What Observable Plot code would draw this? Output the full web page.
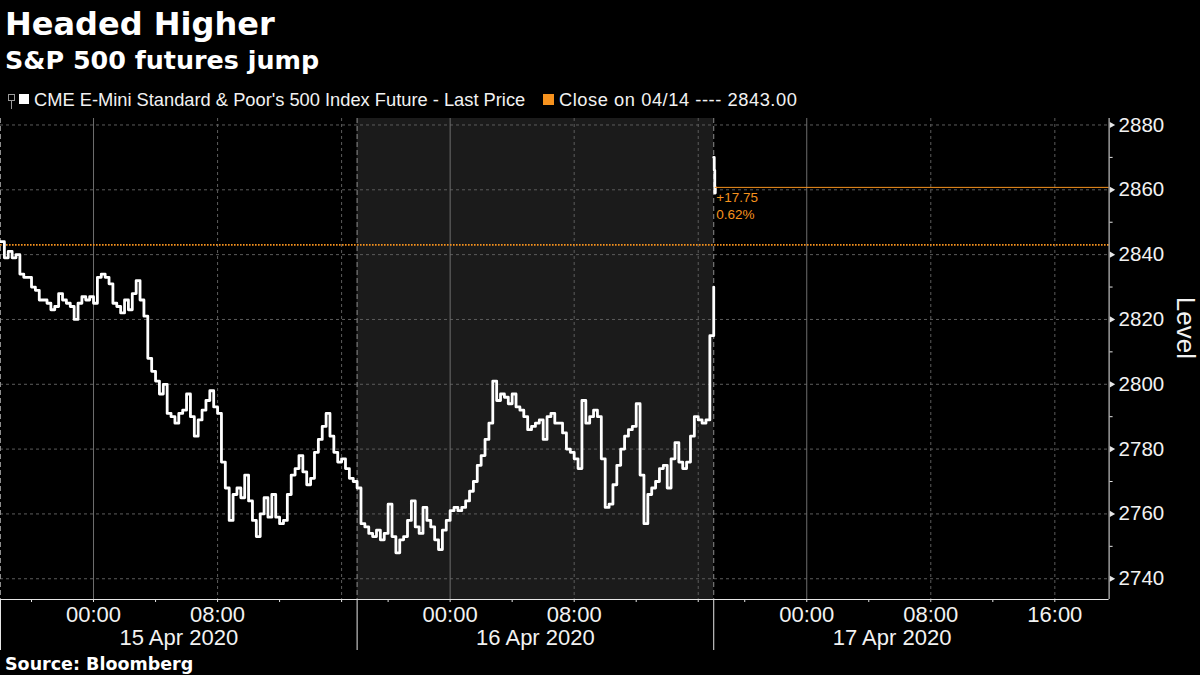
<!DOCTYPE html>
<html><head><meta charset="utf-8">
<script src="https://cdn.jsdelivr.net/npm/d3@7"></script>
<script src="https://cdn.jsdelivr.net/npm/@observablehq/plot@0.6"></script>
<style>
html,body{margin:0;padding:0;background:#000;width:1200px;height:675px;overflow:hidden;}
#page{position:relative;width:1200px;height:675px;background:#000;color:#fff;}
.t{position:absolute;white-space:nowrap;}
#title{left:5px;top:8px;font:bold 32px/32px "DejaVu Sans",sans-serif;}
#subtitle{left:5px;top:47px;font:bold 25.4px/26px "DejaVu Sans",sans-serif;}
.leg{top:91px;font:18.3px/18px "Liberation Sans",Arial,sans-serif;color:#f2f2f2;}
.sw{position:absolute;}
#source{left:5px;top:656px;font:bold 17.5px/17px "DejaVu Sans",sans-serif;z-index:2;}
#chart{position:absolute;left:0;top:110px;z-index:1;}
</style></head>
<body><div id="page">
<div id="title" class="t">Headed Higher</div>
<div id="subtitle" class="t">S&amp;P 500 futures jump</div>
<svg class="sw" style="left:7px;top:93px" width="9" height="17"><rect x="1.5" y="1.5" width="6" height="6" fill="none" stroke="#9a9a9a"/><line x1="4.5" y1="7.5" x2="4.5" y2="16" stroke="#9a9a9a"/></svg>
<div class="sw" style="left:19px;top:94px;width:10px;height:10px;background:#fff"></div>
<div id="leg1" class="t leg" style="left:34px"></div>
<div id="legsw2" class="sw" style="left:543px;top:94px;width:11px;height:11px;"></div>
<div id="leg2" class="t leg" style="left:559px;letter-spacing:0.55px"></div>
<div id="chart"></div>
<div id="source" class="t">Source: Bloomberg</div>
</div>
<script>
// ---- data ----
const seriesName = "CME E-Mini Standard & Poor's 500 Index Future - Last Price";
const closeLabel = "Close on 04/14";
const closePrev = 2843.00;
// Last price, 15-minute samples of trading time, session start 14 Apr 18:00 ET through 16 Apr 17:00 ET
const stepHours = 0.25;
const prices = [
 2844, 2839, 2841, 2839, 2840, 2834, 2833, 2833, 2830, 2829,
 2826, 2826, 2825, 2823, 2824, 2828, 2826, 2825, 2824, 2820,
 2825, 2827, 2826, 2827, 2825, 2833, 2834, 2833, 2831, 2825,
 2824, 2822, 2826, 2823, 2828, 2832, 2826, 2821, 2808, 2804,
 2801, 2797, 2800, 2791, 2790, 2788, 2791, 2792, 2797, 2790,
 2784, 2789, 2792, 2795, 2798, 2793, 2791, 2776, 2768, 2758,
 2766, 2768, 2765, 2772, 2764, 2758, 2753, 2760, 2765, 2759,
 2766, 2759, 2757, 2758, 2766, 2772, 2774, 2778, 2773, 2769,
 2771, 2779, 2783, 2787, 2791, 2784, 2779, 2776, 2777, 2774,
 2771, 2770, 2768, 2757, 2756, 2754, 2753, 2755, 2752, 2754,
 2763, 2753, 2748, 2752, 2753, 2758, 2764, 2756, 2754, 2762,
 2758, 2756, 2752, 2749, 2755, 2758, 2761, 2762, 2761, 2762,
 2764, 2767, 2770, 2775, 2778, 2783, 2788, 2801, 2795, 2797,
 2796, 2794, 2797, 2793, 2792, 2790, 2786, 2787, 2788, 2789,
 2783, 2790, 2791, 2788, 2788, 2785, 2780, 2779, 2777, 2774,
 2795, 2788, 2790, 2792, 2790, 2777, 2762, 2763, 2769, 2775,
 2780, 2784, 2786, 2787, 2794, 2772, 2757, 2766, 2768, 2770,
 2774, 2775, 2768, 2777, 2782, 2776, 2774, 2776, 2784, 2790,
 2789, 2788, 2789, 2815, 2830
];
// after the 16 Apr 18:00 reopen, 2-minute samples
const reopenStepHours = 2 / 60;
const reopenPrices = [2870, 2866, 2859, 2860.75];
const sessions = [
  {label: "15 Apr 2020", start: 0, end: 23},
  {label: "16 Apr 2020", start: 23, end: 46},
  {label: "17 Apr 2020", start: 46, end: 69}
];
const xTickHours = [2, 6, 10, 14, 18, 22, 25, 29, 33, 37, 41, 45, 48, 52, 56, 60, 64, 68];
const xLabelHours = [6, 14, 29, 37, 52, 60, 68];
const gridSolidHours = [6, 29, 52];
const gridDashedHours = [14, 22, 37, 45, 60, 68];
const yTicks = [2740, 2760, 2780, 2800, 2820, 2840, 2860, 2880];
const yMinorTicks = [2750, 2770, 2790, 2810, 2830, 2850, 2870];
const xDomain = [0, 71.5];
const yDomain = [2733.6, 2882];

// ---- build ----
const orange = "#f6921e";
const rows = prices.map((p, i) => ({h: i * stepHours, price: p}));
const reopenStart = sessions[2].start;
rows.push({h: reopenStart, price: NaN});
reopenPrices.forEach((p, k) => rows.push({h: reopenStart + k * reopenStepHours, price: p}));
const last = rows[rows.length - 1];
const change = last.price - closePrev;
const pct = change / closePrev * 100;

document.getElementById("leg1").textContent = seriesName;
document.getElementById("legsw2").style.background = orange;
document.getElementById("leg2").textContent = `${closeLabel} ---- ${closePrev.toFixed(2)}`;

const clock = h => {
  const hr = (18 + (h % 23)) % 24;
  return String(hr).padStart(2, "0") + ":00";
};

const chart = Plot.plot({
  width: 1200, height: 555,
  marginLeft: 0, marginRight: 91.4, marginTop: 8, marginBottom: 66,
  style: {background: "#000", color: "#f2f2f2", fontFamily: '"Liberation Sans", Arial, sans-serif', overflow: "visible"},
  x: {type: "linear", domain: xDomain},
  y: {domain: yDomain},
  marks: [
    Plot.rect([sessions[1]], {x1: "start", x2: "end", fill: "#1b1b1b"}),
    Plot.ruleY(yTicks, {stroke: "#5c5c5c", strokeDasharray: "3,3"}),
    Plot.ruleX(gridSolidHours, {stroke: "#6e6e6e"}),
    Plot.ruleX(gridDashedHours, {stroke: "#5c5c5c", strokeDasharray: "3,3"}),
    Plot.ruleX(sessions, {x: "start", stroke: "#8c8c8c", strokeDasharray: "5,3"}),
    Plot.ruleX(sessions, {x: "start", stroke: "#e6e6e6", insetTop: 481, insetBottom: -51}),
    Plot.ruleY([closePrev], {stroke: orange, strokeWidth: 1.8, strokeDasharray: "1.6,1.4"}),
    Plot.line(rows, {x: "h", y: "price", stroke: "#fff", strokeWidth: 2.8, curve: "step-after"}),
    Plot.ruleY([last], {y: "price", x1: "h", x2: () => xDomain[1], stroke: orange, strokeWidth: 1}),
    Plot.text([last], {x: "h", y: "price", text: () => (change >= 0 ? "+" : "") + change.toFixed(2),
      fill: orange, fontSize: 13.5, textAnchor: "start", dy: 10.7, dx: 1}),
    Plot.text([last], {x: "h", y: "price", text: () => pct.toFixed(2) + "%",
      fill: orange, fontSize: 13.5, textAnchor: "start", dy: 27, dx: 1}),
    Plot.ruleY([yDomain[0]], {stroke: "#e6e6e6"}),
    Plot.ruleX([xDomain[1]], {stroke: "#e6e6e6"}),
    Plot.axisX({ticks: xTickHours, tickSize: 3, tickPadding: 4, fontSize: 22, label: null,
      stroke: "#e6e6e6", tickFormat: h => xLabelHours.includes(h) ? clock(h) : ""}),
    Plot.text(sessions, {x: d => (d.start + d.end) / 2, text: "label", frameAnchor: "bottom", dy: 45, fontSize: 22, fill: "#f2f2f2"}),
    Plot.axisY({anchor: "right", ticks: yTicks, tickSize: 0, tickPadding: 9.5, fontSize: 20.5, label: null,
      tickFormat: d => String(d)}),
    Plot.axisY({anchor: "right", ticks: yMinorTicks, tickSize: 3, label: null, stroke: "#e6e6e6", tickFormat: () => ""}),
    Plot.dot(yTicks, {y: d => d, frameAnchor: "right", symbol: "triangle", rotate: 90, r: 2.3, fill: "#e6e6e6", dx: 2.5}),
    Plot.text(["Level"], {frameAnchor: "right", dx: 76, rotate: 90, fontSize: 26, fill: "#f2f2f2"})
  ]
});
document.getElementById("chart").appendChild(chart);
</script>
</body></html>
